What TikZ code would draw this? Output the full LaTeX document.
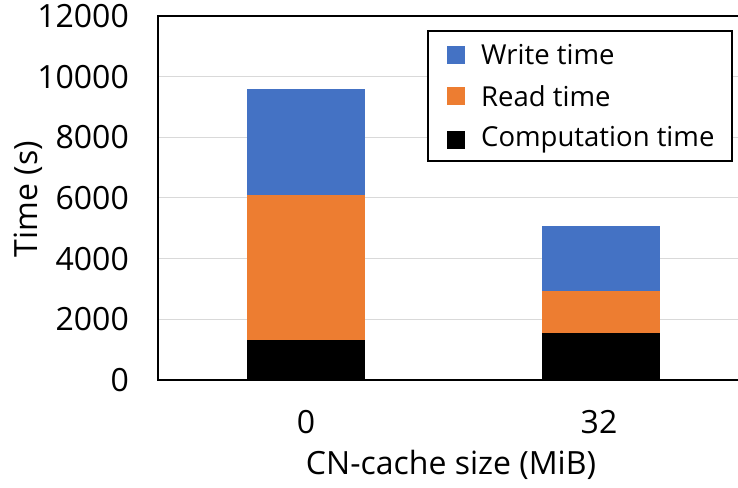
\documentclass[tikz,border=0pt]{standalone}
\usepackage{fontspec}
\setmainfont{Open Sans}
\definecolor{writeblue}{HTML}{4472C4}
\definecolor{readorange}{HTML}{ED7D31}
\definecolor{gridgray}{HTML}{D9D9D9}
\tikzset{
  ticklabel/.style={anchor=east,inner sep=0pt,font=\fontsize{32}{32}\selectfont},
  axislabel/.style={inner sep=0pt,font=\fontsize{32}{32}\selectfont},
  legendtext/.style={anchor=west,inner sep=0pt,font=\fontsize{27.5}{27.5}\selectfont},
  legendkey/.style={minimum size=18pt,inner sep=0pt},
}
\begin{document}
\begin{tikzpicture}[x=1pt,y=1pt]
    \useasboundingbox (0,0) rectangle (738,487);
    \clip (0,0) rectangle (738,487);
    %plot area
    \begin{scope}[shift={(158,107)},y=0.030333pt]
        \foreach \v in {2000,4000,...,10000}
            \draw[gridgray,line width=1pt] (0,\v) -- (600,\v);
        %bars
        \fill[black] (88.7,0) rectangle (207,1320);
        \fill[readorange] (88.7,1320) rectangle (207,6100);
        \fill[writeblue] (88.7,6100) rectangle (207,9594);
        \fill[black] (384.3,0) rectangle (502.3,1560);
        \fill[readorange] (384.3,1560) rectangle (502.3,2934);
        \fill[writeblue] (384.3,2934) rectangle (502.3,5067);
        %axes
        \draw[line width=1.6pt,black] (600,0) -- (0,0) -- (0,12000) -- (600,12000);
        \foreach \v in {0,2000,...,12000}
            \node[ticklabel] (tick\v) at (-29,\v) {\v};
        \node[ticklabel,anchor=center] (cat0) at (148,-1390) {0};
        \node[ticklabel,anchor=center] (cat32) at (441,-1390) {32};
    \end{scope}
    \node[axislabel,rotate=90] (ylab) at (28,288) {Time (s)};
    \node[axislabel] (xlab) at (451,22) {CN-cache size (MiB)};
    %legend
    \draw[line width=1.3pt,fill=white] (428,326) rectangle (732,456);
    \node[legendkey,fill=writeblue] (kwrite) at (456,432) {};
    \node[legendkey,fill=readorange] (kread) at (456,391) {};
    \node[legendkey,fill=black] (kcomp) at (456,347) {};
    \node[legendtext] (lwrite) at (481,432) {Write time};
    \node[legendtext] (lread) at (481,391) {Read time};
    \node[legendtext] (lcomp) at (481,347) {Computation time};
\end{tikzpicture}
\end{document}
